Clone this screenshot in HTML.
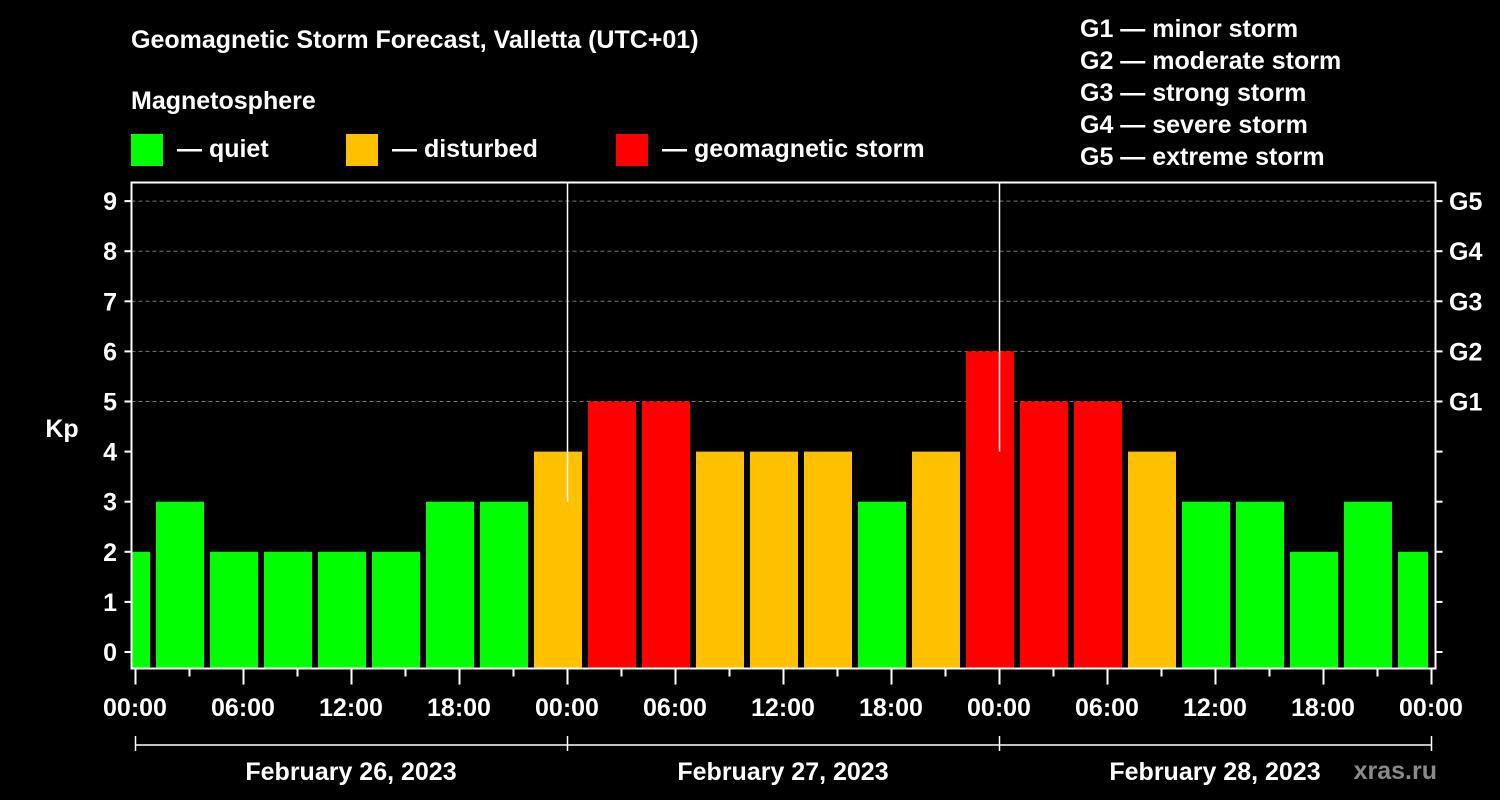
<!DOCTYPE html>
<html><head><meta charset="utf-8"><style>
html,body{margin:0;padding:0;background:#000;width:1500px;height:800px;overflow:hidden}
svg text{font-family:"Liberation Sans",Arial,sans-serif;font-weight:bold;fill:#fff}
</style></head><body>
<svg id="c" width="1500" height="800" viewBox="0 0 1500 800">
<text x="131" y="48" font-size="25">Geomagnetic Storm Forecast, Valletta (UTC+01)</text>
<text x="131" y="109" font-size="25">Magnetosphere</text>
<g>
<rect x="131" y="134" width="32" height="32" fill="#00ff00"/>
<text x="177" y="157" font-size="25">— quiet</text>
<rect x="346" y="134" width="32" height="32" fill="#ffc000"/>
<text x="392" y="157" font-size="25">— disturbed</text>
<rect x="616" y="134" width="32" height="32" fill="#ff0000"/>
<text x="662" y="157" font-size="25">— geomagnetic storm</text>
</g>
<g font-size="25">
<text x="1080" y="37">G1 — minor storm</text>
<text x="1080" y="69">G2 — moderate storm</text>
<text x="1080" y="101">G3 — strong storm</text>
<text x="1080" y="133">G4 — severe storm</text>
<text x="1080" y="165">G5 — extreme storm</text>
</g>
<text x="62" y="437" font-size="25" text-anchor="middle">Kp</text>
<text x="1437" y="779" font-size="25" fill="#888" style="fill:#8a8a8a" text-anchor="end">xras.ru</text>
<g id="plot"></g>
</svg>
<script>
const kpValues=[2,3,2,2,2,2,3,3,4,5,5,4,4,4,3,4,6,5,5,4,3,3,2,3,2];
const yTicks=[0,1,2,3,4,5,6,7,8,9];
const gLabels=["G1","G2","G3","G4","G5"];
const xTickLabels=["00:00","06:00","12:00","18:00","00:00","06:00","12:00","18:00","00:00","06:00","12:00","18:00","00:00"];
const dayLabels=["February 26, 2023","February 27, 2023","February 28, 2023"];
const NS="http://www.w3.org/2000/svg";
const L=131.5,R=1435.5,T=182.5,B=668.5,X0=135,PXH=18;
const y=v=>652-v*50.1;
const x=h=>X0+h*PXH;
const g=document.getElementById('plot');
function mk(tag,a,parent){const e=document.createElementNS(NS,tag);for(const k in a)e.setAttribute(k,a[k]);(parent||g).appendChild(e);return e;}
// grid
for(let v=5;v<=9;v++){const e=mk('line',{x1:L,x2:R,y1:y(v),y2:y(v),stroke:'#777','stroke-dasharray':'4,3','stroke-width':1});

}
// bars
const cp=mk('clipPath',{id:'pc'});mk('rect',{x:L+1,y:T,width:x(72)-L-4,height:B-T},cp);
const bg=mk('g',{'clip-path':'url(#pc)'});
kpValues.forEach((v,i)=>{const c=-0.5+3*i;const col=v>=5?'#ff0000':(v>=4?'#ffc000':'#00ff00');
const r=mk('rect',{x:x(c-4/3),y:y(v),width:48,height:B-y(v)-0.5,fill:col},bg);

});
// day separators
[24,48].forEach(h=>{const e=mk('line',{x1:x(h)+0.5,x2:x(h)+0.5,y1:T,y2:y(kpValues[Math.round((h+0.5)/3)-1]),stroke:'#fff','stroke-width':1.5});

});
// axes frame
const f=mk('path',{d:`M${L},${T}H${R}V${B}H${L}Z`,fill:'none',stroke:'#fff','stroke-width':2});


// y ticks
yTicks.forEach(v=>{mk('line',{x1:L-7,x2:L,y1:y(v),y2:y(v),stroke:'#fff','stroke-width':2});
mk('line',{x1:R,x2:R+7,y1:y(v),y2:y(v),stroke:'#fff','stroke-width':2});
const t=mk('text',{x:117,y:y(v)+9,'font-size':25,'text-anchor':'end'});t.textContent=v;

});
gLabels.forEach((s,i)=>{const t=mk('text',{x:1449,y:y(5+i)+9,'font-size':25});t.textContent=s;

});
// x ticks
for(let h=0;h<=72;h+=3){const major=h%6===0;mk('line',{x1:x(h)+0.5,x2:x(h)+0.5,y1:B,y2:B+(major?16:8),stroke:'#fff','stroke-width':2});}
xTickLabels.forEach((s,i)=>{const t=mk('text',{x:x(i*6),y:716,'font-size':25,'text-anchor':'middle'});t.textContent=s;

});
// day bracket
mk('line',{x1:x(0),x2:x(72)+1,y1:745,y2:745,stroke:'#fff','stroke-width':1.5});
[0,24,48,72].forEach(h=>mk('line',{x1:x(h)+0.5,x2:x(h)+0.5,y1:736,y2:751,stroke:'#fff','stroke-width':1.5}));
dayLabels.forEach((s,i)=>{const t=mk('text',{x:x(i*24+12),y:780,'font-size':25,'text-anchor':'middle'});t.textContent=s;

});
</script>
</body></html>
